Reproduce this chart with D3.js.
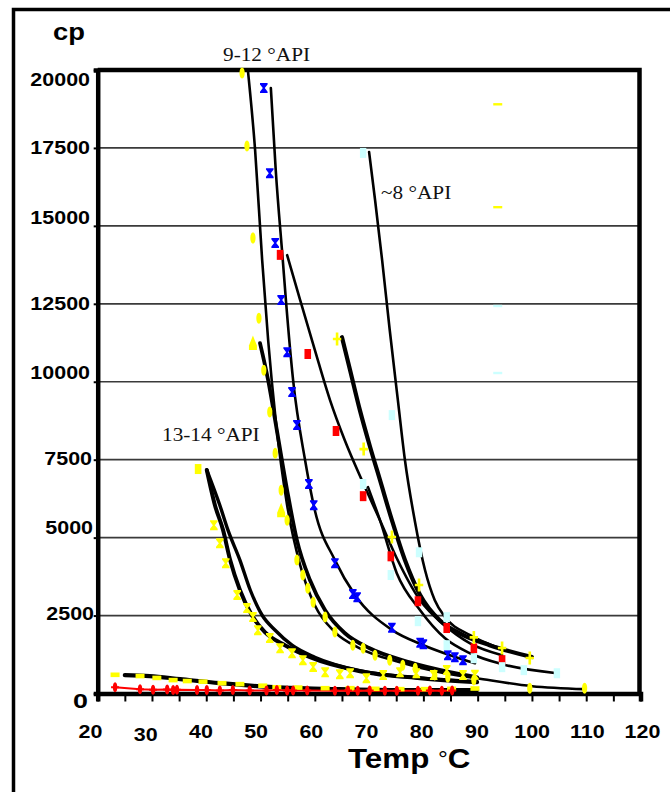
<!DOCTYPE html>
<html><head><meta charset="utf-8">
<script src="https://cdnjs.cloudflare.com/ajax/libs/d3/7.8.5/d3.min.js"></script>
<style>body{margin:0;background:#fff}svg{display:block}</style>
</head><body><svg id="chart" width="670" height="792"></svg>
<script>
// ---- axis labels ----
const yTickValues = [0, 2500, 5000, 7500, 10000, 12500, 15000, 17500, 20000];
const xTickLabels = [20, 30, 40, 50, 60, 70, 80, 90, 100, 110, 120];
const xMinorTicks = [20, 25, 30, 35, 40, 45, 50, 55, 60, 65, 70, 75, 80, 85, 90, 95, 100, 105, 110, 115, 120];

// ---- 9-12 °API oils ----
const diamondPts = [[46.6,19900],[47.5,17560],[48.6,14610],[49.7,12040],[50.6,10370],[51.7,9030],[52.7,7710],[53.8,6520],[54.9,5560],[56.7,4280],[57.8,3800],[58.7,3380],[59.7,2930],[61.9,2450],[63.7,1970],[67.0,1550],[68.9,1450],[71.1,1230],[73.8,1070],[76.2,910],[78.5,810],[82.1,590],[84.5,520],[89.3,430],[99.6,170],[109.7,170]];
const diamondFit = [[47.7,19940],[49.0,17430],[50.3,13900],[51.4,11340],[52.8,8770],[54.9,6040],[57.3,4120],[60.0,2830],[63.7,1970],[68.3,1450],[75.7,1000],[83.0,680],[89.9,490],[100.0,235],[109.7,140]];

const blueXPts = [[50.6,19420],[51.7,16690],[52.7,14450],[53.8,12620],[54.9,10950],[55.8,9670],[56.7,8610],[58.9,6720],[59.8,6040],[63.7,4180],[67.0,3190],[67.8,3090],[74.2,2110],[79.4,1630],[80.0,1580],[84.5,1230],[85.8,1165],[87.3,1070]];
const blueXFit = [[51.9,19420],[52.8,16790],[54.1,13900],[54.7,12560],[56.0,10050],[58.2,7490],[60.0,5880],[63.7,4280],[67.4,3160],[74.2,2040],[80.0,1550],[84.9,1230],[89.5,970]];

const redSqPts = [[53.6,14070],[58.7,10890],[63.9,8420],[68.9,6330],[74.0,4400],[79.0,2960],[84.3,2100],[89.3,1450],[94.5,1070]];
const redSqFit = [[54.9,14060],[57.3,12620],[60.0,11020],[62.8,9410],[65.5,8130],[68.9,6750],[72.0,5560],[75.1,4340],[79.4,2990],[83.9,2190],[88.6,1610],[94.5,1230]];

const plusPts = [[64.1,11370],[69.0,7840],[74.2,5020],[79.2,3480],[89.3,1800],[94.5,1460],[99.6,1140]];
const plusFit = [[65.0,11430],[66.5,10370],[68.3,9090],[70.2,7900],[72.0,6850],[74.2,5560],[76.6,4280],[79.4,3160],[83.0,2350],[86.7,1930],[92.2,1550],[100.0,1170]];

const trianglePts = [[48.6,11240],[53.8,5880]];
const triangleFit = [[49.9,11240],[51.4,10050],[53.0,8450],[54.9,6520],[56.7,4920],[59.1,3640],[61.9,2670],[65.5,1940],[70.1,1450],[77.5,1000],[84.9,685],[89.9,520]];

// ---- ~8 °API oil ----
const cyanPts = [[68.9,17340],[74.2,8930],[79.2,4530],[84.3,2450]];
const cyanFit = [[70.0,17370],[71.1,15830],[72.4,13900],[73.8,11660],[75.3,9410],[76.6,7490],[78.4,5560],[80.3,3960],[82.1,2990],[84.0,2450],[88.6,1870],[94.1,1450]];

const cyan2Pts = [[68.9,6720],[74.0,3800],[79.0,2320],[84.3,1550],[89.3,1130],[94.5,845],[98.5,750],[104.6,650]];
const cyan2Fit = [[69.8,6620],[72.0,5560],[75.1,3860],[79.4,2670],[84.0,1770],[88.6,1290],[94.5,940],[104.6,650]];

// isolated readings at 94 °C
const strayYellow = [[93.7,18900],[93.7,15600]];
const strayCyan = [[93.7,12430],[93.7,10280]];

// ---- 13-14 °API oils ----
const squareYPts = [[38.5,7200]];
const heavyFitA = [[40.1,7170],[41.6,6040],[43.1,5240],[44.4,4280],[46.2,3320],[48.4,2510],[50.8,1970],[54.5,1550],[59.1,1165],[68.3,716],[79.4,491],[89.9,363]];
const heavyFitB = [[40.1,7170],[42.5,6040],[44.0,5240],[46.2,4280],[48.1,3320],[50.3,2510],[52.7,2030],[55.8,1550],[60.0,1165],[68.3,730],[79.4,500],[89.9,380]];
const hourglassYPts = [[41.4,5400],[42.5,4820],[43.6,4180],[45.7,3160],[47.5,2740],[48.6,2450],[49.5,2030],[51.7,1780],[53.6,1450],[55.8,1290],[57.8,1070],[59.7,850],[61.9,680],[64.6,620],[66.5,650],[69.5,490],[72.6,590],[75.7,680],[78.7,650],[81.9,590],[84.3,750],[87.3,590],[89.5,600]];

// ---- light oils near the axis ----
const lowYellowPts = [[23.2,600],[27.8,560],[30.9,500],[33.9,430],[36.5,400],[39.4,380],[42.9,330],[46.2,300],[50.4,250],[53.0,200],[56.9,190],[61.9,170],[66.5,170],[71.1,150],[75.7,140],[80.3,140],[85.2,150],[89.5,160]];
const lowYellowFit = [[25.0,590],[29.6,560],[35.2,460],[42.5,330],[49.9,230],[57.3,170],[64.6,140],[75.7,110],[89.9,110]];
const lowRedPts = [[23.2,200],[27.8,140],[30.2,120],[32.8,130],[33.9,110],[34.6,120],[38.3,110],[40.1,110],[42.5,100],[44.9,110],[48.0,100],[51.1,100],[53.0,110],[54.9,100],[56.0,100],[58.6,100],[63.7,90],[66.1,100],[67.9,90],[70.1,100],[72.9,90],[75.1,90],[79.0,90],[81.2,100],[83.4,90],[85.3,100]];

// ---------------------------------------------------------------
const svg = d3.select('#chart');
const x = d3.scaleLinear().domain([20, 120]).range([97.7, 640.5]);
const y = d3.scaleLinear().domain([0, 20000]).range([693.5, 70]);
const labelX = d3.scaleLinear().domain([20, 120]).range([90.5, 642.5]);

// outer frame
svg.append('rect').attr('x', 13.5).attr('y', 9.5).attr('width', 700).attr('height', 800)
  .attr('fill', 'none').attr('stroke', '#000').attr('stroke-width', 3.5);

// horizontal gridlines
svg.append('g').selectAll('line').data(yTickValues.filter(v => v > 0 && v < 20000)).join('line')
  .attr('x1', x(20)).attr('x2', x(120)).attr('y1', d => y(d)).attr('y2', d => y(d))
  .attr('stroke', '#3a3a3a').attr('stroke-width', 1.7);

// plot frame (top and right)
svg.append('path')
  .attr('d', `M${x(20)},${y(20000)}H${x(120) - 1}V${y(0)}`)
  .attr('fill', 'none').attr('stroke', '#000').attr('stroke-width', 4.5);

// axes
const yAxis = svg.append('g').attr('transform', `translate(${x(20)},0)`)
  .call(d3.axisLeft(y).tickValues(yTickValues).tickSize(4).tickFormat(''));
yAxis.select('.domain').attr('stroke-width', 4.5);
yAxis.selectAll('.tick line').attr('stroke-width', 2);

const xAxis = svg.append('g').attr('transform', `translate(0,${y(0)})`)
  .call(d3.axisBottom(x).tickValues(xMinorTicks).tickSize(8).tickFormat(''));
xAxis.select('.domain').attr('stroke-width', 4.5);
xAxis.selectAll('.tick line').attr('stroke-width', 2);

// stretched label helper
function label(px, py, txt, opts) {
  const g = svg.append('g').attr('transform', `translate(${px},${py})`);
  const t = g.append('text').attr('transform', `scale(${opts.sx || 1},1)`)
    .attr('text-anchor', opts.anchor || 'start')
    .attr('font-family', opts.family || '"Liberation Sans", Arial, sans-serif')
    .attr('font-weight', opts.weight || 'bold')
    .attr('font-size', opts.size)
    .attr('fill', opts.fill || '#000')
    .text(txt);
  return t;
}

// y tick labels (Excel placement varies a little per label)
const yLabelShift = {0: 14.5, 2500: 4.5, 5000: -4, 7500: 5.5, 10000: -3, 12500: 6, 15000: -2, 17500: 6, 20000: 16};
const yLabelRight = {0: 88, 2500: 94, 5000: 93, 7500: 92, 10000: 90, 12500: 90, 15000: 90, 17500: 90, 20000: 90};
yTickValues.forEach(v => {
  if (v === 0) label(yLabelRight[v], y(v) + yLabelShift[v], '0', {size: 21, sx: 1.28, anchor: 'end'});
  else label(yLabelRight[v], y(v) + yLabelShift[v], String(v), {size: 18.5, sx: 1.16, anchor: 'end'});
});

// x tick labels
xTickLabels.forEach(v => {
  label(labelX(v), v === 30 ? 741 : 738, String(v), {size: 18.5, sx: 1.16, anchor: 'middle'});
});

// axis titles
label(53, 40, 'cp', {size: 23, sx: 1.19});
const tt = label(348, 768, 'Temp ', {size: 28, sx: 1.12});
tt.append('tspan').attr('font-weight', 'normal').attr('font-size', 22).attr('dy', -1).text('°');
tt.append('tspan').attr('dy', 1).text('C');

// group annotations
const serif = '"Liberation Serif", "Times New Roman", serif';
label(223, 61, '9-12 °API', {size: 19, sx: 1.12, family: serif, weight: 'normal', fill: '#111'});
label(381, 199, '~8 °API', {size: 19, sx: 1.12, family: serif, weight: 'normal', fill: '#111'});
label(162, 441, '13-14 °API', {size: 19, sx: 1.12, family: serif, weight: 'normal', fill: '#111'});

// ---- fitted curves ----
const line = d3.line().x(d => x(d[0])).y(d => y(d[1])).curve(d3.curveMonotoneX);
const curves = [
  [diamondFit, 2.6], [blueXFit, 2.6], [redSqFit, 2.6], [plusFit, 4.2], [triangleFit, 3.8],
  [cyanFit, 2.6], [cyan2Fit, 2.6], [heavyFitA, 4], [heavyFitB, 3.4], [lowYellowFit, 4.2]
];
const curveG = svg.append('g');
curves.forEach(([pts, w]) => {
  curveG.append('path').attr('d', line(pts)).attr('fill', 'none')
    .attr('stroke', '#000').attr('stroke-width', w).attr('stroke-linecap', 'round');
});

// red readings joined by a red line
svg.append('path').attr('d', d3.line().x(d => x(d[0])).y(d => y(d[1]))(lowRedPts))
  .attr('fill', 'none').attr('stroke', '#ff0000').attr('stroke-width', 2);

// ---- markers ----
const shapes = {
  oval: 'M0,-5.5 C3.5,-5.5 3.5,5.5 0,5.5 C-3.5,5.5 -3.5,-5.5 0,-5.5Z',
  hourglass: 'M-3.8,-5H3.8V-3.6L1,0L3.8,3.6V5H-3.8V3.6L-1,0L-3.8,-3.6Z',
  square: 'M-3.3,-5H3.3V5H-3.3Z',
  plus: 'M-1.3,-6.5H1.3V-1.3H4.2V1.3H1.3V6.5H-1.3V1.3H-4.2V-1.3H-1.3Z',
  tri: 'M0,-7.5L4,2.5V7H-4V2.5Z',
  dash: 'M-4.5,-2.3H4.5V2.3H-4.5Z',
  bar: 'M-3.2,-5H3.2V5H-3.2Z',
  tick: 'M-4.5,-1.2H4.5V1.2H-4.5Z',
  redOval: 'M0,-5 C3,-5 3,5 0,5 C-3,5 -3,-5 0,-5Z M-4,-1H4V1H-4Z'
};
const markerSets = [
  [lowYellowPts, 'dash', '#ffff00'],
  [lowRedPts, 'redOval', '#ff0000'],
  [hourglassYPts, 'hourglass', '#ffff00'],
  [squareYPts, 'square', '#ffff00'],
  [diamondPts, 'oval', '#ffff00'],
  [trianglePts, 'tri', '#ffff00'],
  [blueXPts, 'hourglass', '#0000ff'],
  [redSqPts, 'square', '#ff0000'],
  [plusPts, 'plus', '#ffff00'],
  [cyanPts, 'bar', '#ccffff'],
  [cyan2Pts, 'bar', '#ccffff'],
  [strayYellow, 'tick', '#ffff00'],
  [strayCyan, 'tick', '#ccffff']
];
markerSets.forEach(([pts, shape, col]) => {
  svg.append('g').selectAll('path').data(pts).join('path')
    .attr('transform', d => `translate(${x(d[0])},${y(d[1])})`)
    .attr('d', shapes[shape]).attr('fill', col);
});
</script></body></html>
